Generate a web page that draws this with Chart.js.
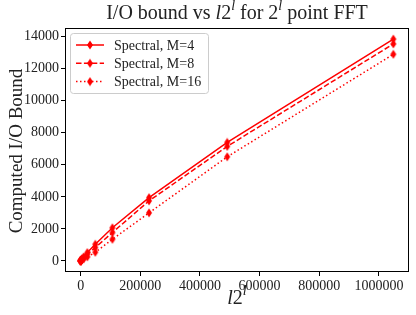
<!DOCTYPE html>
<html>
<head>
<meta charset="utf-8">
<script src="https://cdn.jsdelivr.net/npm/chart.js@4/dist/chart.umd.min.js"></script>
<style>
  html, body { margin: 0; padding: 0; background: #fff; }
  #wrap { width: 416px; height: 315px; }
</style>
</head>
<body>
<div id="wrap"><canvas id="fft"></canvas></div>
<script>
// l * 2^l for l = 4..16
const xVals = [64, 160, 384, 896, 2048, 4608, 10240, 22528, 49152, 106496, 229376, 491520, 1048576];
const specM4 = [4, 8, 16, 32, 64, 128, 256, 520, 1040, 2070, 3950, 7400, 13850];
const specM8 = [3, 6, 12, 25, 50, 100, 200, 420, 830, 1770, 3750, 7150, 13550];
const specM16 = [2, 4, 8, 16, 32, 64, 130, 250, 540, 1350, 3000, 6500, 12900];
const seriesLabels = ['Spectral, M=4', 'Spectral, M=8', 'Spectral, M=16'];
const xTicks = [0, 200000, 400000, 600000, 800000, 1000000];
const yTicks = [0, 2000, 4000, 6000, 8000, 10000, 12000, 14000];

const SERIF = '"Liberation Serif", "DejaVu Serif", serif';
const RED = '#ff0000';

// thin diamond marker like matplotlib 'd'
function thinDiamond() {
  const c = document.createElement('canvas');
  c.width = 8; c.height = 10;
  const g = c.getContext('2d');
  g.fillStyle = RED;
  g.beginPath();
  g.moveTo(4, 0.5); g.lineTo(7, 5); g.lineTo(4, 9.5); g.lineTo(1, 5);
  g.closePath(); g.fill();
  return c;
}
const marker = thinDiamond();

function pts(ys) { return xVals.map((x, i) => ({ x: x, y: ys[i] })); }

const dashes = [[], [5.5, 2.4], [1.5, 2.5]];
const series = [specM4, specM8, specM16];

// draw text made of runs (italic / superscript)
function richText(ctx, runs, cx, cy, size) {
  const w = runs.reduce((a, r) => {
    ctx.font = (r.i ? 'italic ' : '') + (r.sup ? size * 0.7 : size) + 'px ' + SERIF;
    return a + ctx.measureText(r.t).width;
  }, 0);
  let x = cx - w / 2;
  runs.forEach(r => {
    const s = r.sup ? size * 0.7 : size;
    ctx.font = (r.i ? 'italic ' : '') + s + 'px ' + SERIF;
    ctx.fillText(r.t, x, r.sup ? cy - size * 0.36 : cy);
    x += ctx.measureText(r.t).width;
  });
}

const decor = {
  id: 'decor',
  afterDraw(chart) {
    const ctx = chart.ctx, a = chart.chartArea;
    ctx.save();
    ctx.strokeStyle = '#000';
    ctx.lineWidth = 1;
    ctx.strokeRect(a.left + 0.5, a.top + 0.5, a.right - a.left - 1, a.bottom - a.top - 1);

    ctx.fillStyle = '#222';
    ctx.textBaseline = 'middle';
    ctx.textAlign = 'left';
    richText(ctx, [{ t: 'I/O bound vs ' }, { t: 'l', i: true }, { t: '2' }, { t: 'l', i: true, sup: true },
      { t: ' for 2' }, { t: 'l', i: true, sup: true }, { t: ' point FFT' }], (a.left + a.right) / 2, 14, 20);
    richText(ctx, [{ t: 'l', i: true }, { t: '2' }, { t: 'l', i: true, sup: true }], (a.left + a.right) / 2, 299, 20);

    ctx.save();
    ctx.translate(17, (a.top + a.bottom) / 2 + 1);
    ctx.rotate(-Math.PI / 2);
    ctx.textAlign = 'center';
    ctx.font = '19px ' + SERIF;
    ctx.fillText('Computed I/O Bound', 0, 0);
    ctx.restore();

    // legend
    const lx = 70, ly = 33, lw = 138, lh = 60;
    ctx.fillStyle = 'rgba(255,255,255,0.8)';
    ctx.strokeStyle = '#cccccc';
    ctx.beginPath();
    ctx.roundRect(lx + 0.5, ly + 0.5, lw, lh, 3);
    ctx.fill(); ctx.stroke();
    chart.data.datasets.forEach((ds, i) => {
      const y = ly + 12 + i * 18.3;
      ctx.strokeStyle = ds.borderColor;
      ctx.lineWidth = ds.borderWidth;
      ctx.setLineDash(ds.borderDash);
      ctx.beginPath(); ctx.moveTo(lx + 6, y); ctx.lineTo(lx + 34, y); ctx.stroke();
      ctx.setLineDash([]);
      ctx.drawImage(marker, lx + 20 - 4, y - 5);
      ctx.fillStyle = '#222';
      ctx.font = '14px ' + SERIF;
      ctx.textAlign = 'left';
      ctx.fillText(ds.label, lx + 44, y + 1);
    });
    ctx.restore();
  }
};

new Chart(document.getElementById('fft'), {
  type: 'line',
  data: {
    datasets: series.map((ys, i) => ({
      label: seriesLabels[i],
      data: pts(ys),
      borderColor: RED,
      backgroundColor: RED,
      borderWidth: 1.5,
      borderDash: dashes[i],
      pointStyle: marker,
      pointRadius: 4,
      tension: 0,
      fill: false,
    }))
  },
  options: {
    responsive: true,
    maintainAspectRatio: false,
    animation: false,
    layout: { padding: { top: 28, right: 7, left: 0, bottom: 0 } },
    plugins: { legend: { display: false }, title: { display: false }, tooltip: { enabled: false } },
    scales: {
      x: {
        type: 'linear',
        min: -52429, max: 1101005,
        afterBuildTicks: s => { s.ticks = xTicks.map(v => ({ value: v })); },
        afterFit: s => { s.height = 43; },
        grid: { drawOnChartArea: false, tickLength: 4, color: '#000', drawTicks: true },
        border: { display: false },
        ticks: { color: '#222', padding: 2, maxRotation: 0, font: { family: SERIF, size: 14 }, callback: v => String(v) }
      },
      y: {
        type: 'linear',
        min: -692, max: 14542,
        afterBuildTicks: s => { s.ticks = yTicks.map(v => ({ value: v })); },
        afterFit: s => { s.width = 65; },
        grid: { drawOnChartArea: false, tickLength: 4, color: '#000' },
        border: { display: false },
        ticks: { color: '#222', padding: 2, font: { family: SERIF, size: 14 }, callback: v => String(v) }
      }
    }
  },
  plugins: [decor]
});
</script>
</body>
</html>
